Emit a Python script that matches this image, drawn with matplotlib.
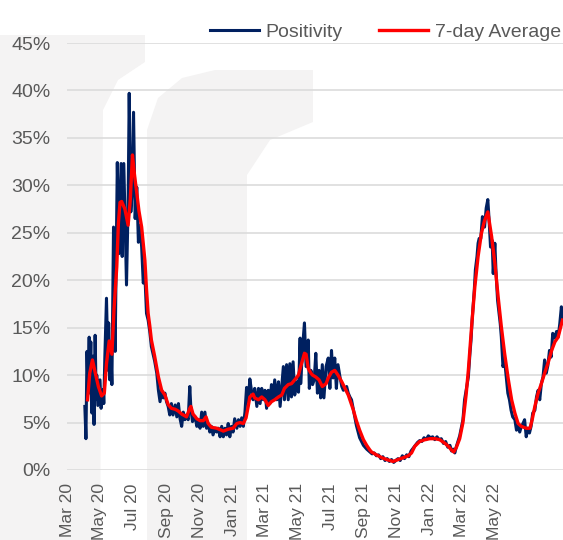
import matplotlib
matplotlib.use('Agg')
import matplotlib.pyplot as plt
import pandas as pd
from matplotlib.patches import Polygon
from matplotlib.ticker import FuncFormatter

plt.rcParams['font.family'] = ['Liberation Sans', 'DejaVu Sans']

start = pd.Timestamp('2020-03-01')

# daily positivity (% ), day offset from 1 Mar 2020
pos_day = [33, 35, 37, 39, 41, 42, 44, 46, 48, 50, 52, 54, 55, 57, 61, 63, 67, 68, 70, 73,
           76, 77, 79, 81, 83, 86, 89, 93, 96, 100, 102, 105, 107, 110, 113, 115, 118, 121, 123, 126,
           129, 132, 135, 138, 141, 144, 147, 150, 153,
           156, 162, 166, 169, 172, 175, 178, 181, 184, 187, 190, 193, 196, 200, 203, 206, 209, 212, 215, 218,
           221, 224, 227, 229, 232, 237, 240, 243, 246, 249, 252, 255, 258, 261, 264, 267, 270, 274, 277, 280,
           283, 286, 289, 292, 295, 298, 301, 304, 307, 310, 314, 317, 320, 323, 326, 329, 332, 335, 338,
           341, 344, 347, 351, 354, 357, 360, 363, 366, 369, 372, 375, 378, 381, 384, 388, 391, 394, 397, 400,
           402, 406, 409, 412, 415, 418, 421, 425, 428, 431, 432, 436, 439, 442, 446, 448, 451, 454, 457, 460,
           463, 466, 469, 472, 475, 479, 483, 486, 489, 492, 495, 498, 501, 505, 508, 511, 517, 520, 523, 526,
           529, 532, 535, 541, 548, 554, 560,
           564, 568, 572, 576, 580, 584, 588, 592, 596, 600, 604, 608, 612, 616, 620, 624, 628, 632, 636, 640,
           644, 648, 652, 656, 660, 664, 668, 672, 676, 680, 684, 688, 692, 696, 700, 704, 708, 711, 714, 717,
           720, 726, 732, 735, 739, 742, 745, 747, 749, 753, 755, 758, 760, 762, 765, 768, 769, 772, 775, 778,
           780, 783, 786, 788, 791, 793, 796, 798, 801, 803, 806, 809, 812, 815, 818, 821, 824, 828, 831, 834,
           837, 840, 843, 846, 849, 852, 855, 858, 861, 865, 868, 871, 874, 877, 880, 883, 886, 889, 892, 895,
           898, 902, 905, 908, 911, 914, 916]
pos_val = [6.7, 3.3, 12.5, 8.0, 14.0, 9.0, 13.5, 6.0, 12.0, 4.8, 14.2, 7.5, 10.0, 6.8, 9.5, 6.5, 8.5, 7.0, 12.0, 18.1,
           10.5, 15.5, 9.5, 13.0, 9.0, 25.6, 12.5, 32.4, 22.8, 32.3, 22.5, 32.3, 27.0, 19.5, 28.0, 39.7, 27.2, 30.0, 37.7, 26.5,
           29.8, 24.0, 25.8, 23.5, 19.7, 20.5, 16.5, 15.8, 14.6,
           13.0, 11.5, 10.2, 8.4, 7.2, 8.4, 7.6, 8.1, 7.2, 6.7, 5.8, 7.0, 5.8, 6.85, 5.6, 7.0, 5.4, 4.6, 6.1, 5.3,
           5.8, 5.3, 8.8, 6.5, 5.1, 5.6, 4.6, 5.3, 4.4, 6.1, 4.6, 6.1, 4.4, 4.9, 4.0, 4.6, 3.7, 4.4, 4.0, 4.4,
           3.5, 4.6, 3.5, 4.4, 3.7, 4.9, 3.5, 4.6, 4.0, 5.4, 4.4, 5.3, 4.6, 5.5, 4.6, 6.1, 8.7, 7.2, 9.6,
           8.4, 7.4, 8.6, 6.7, 8.6, 7.0, 8.6, 7.4, 8.4, 6.5, 8.4, 7.0, 9.0, 7.4, 9.5, 7.4, 9.3, 6.7, 8.8, 10.9,
           7.4, 11.1, 7.4, 11.2, 7.7, 11.4, 7.9, 9.3, 8.2, 13.9, 9.1, 13.3, 15.5, 10.9, 13.7, 8.6, 10.5, 9.0, 9.5, 12.3,
           8.1, 10.5, 7.6, 11.1, 7.6, 10.9, 11.8, 8.6, 12.6, 9.7, 11.8, 8.6, 11.1, 9.7, 8.8, 8.4, 8.8, 8.1, 7.7, 7.4,
           6.5, 5.6, 4.7, 3.4, 2.6, 2.2, 1.9,
           1.7, 1.8, 1.5, 1.6, 1.2, 1.4, 1.0, 1.2, 0.9, 1.1, 0.8, 1.0, 1.2, 1.0, 1.5, 1.2, 1.6, 1.4, 2.0, 2.3,
           2.6, 2.9, 3.1, 3.0, 3.4, 3.2, 3.6, 3.4, 3.5, 3.2, 3.5, 3.2, 3.3, 2.8, 3.0, 2.4, 2.6, 2.0, 2.2, 1.8,
           2.5, 3.6, 5.3, 7.4, 8.8, 9.8, 12.3, 13.7, 15.8, 19.0, 21.1, 22.5, 23.9, 24.4, 24.4, 26.7, 26.3, 25.6, 27.6, 28.5,
           26.7, 23.5, 24.2, 20.7, 23.9, 21.1, 17.9, 16.9, 15.4, 14.0, 10.9, 11.6, 9.8, 8.1, 7.4, 6.3, 5.6, 5.3, 4.2, 4.6,
           4.0, 4.6, 4.9, 5.3, 3.5, 4.4, 3.9, 4.6, 6.0, 6.3, 7.7, 8.4, 7.4, 9.1, 9.8, 11.6, 10.2, 11.0, 12.6, 11.9,
           14.4, 13.9, 14.6, 14.0, 15.4, 17.2, 15.8]

# 7-day average (%)
avg_day = [38, 42, 47, 52, 58, 64, 69, 73, 78, 83, 87, 92, 95, 98, 101, 107, 113, 117, 121, 125,
           129, 133, 138, 144, 147, 150, 153,
           156, 162, 169, 175, 181, 187, 193, 200, 206, 212, 221, 227, 229, 233, 240, 246, 252, 257, 261,
           267, 277, 289, 298, 307, 314, 320, 326, 331, 335, 338,
           344, 347, 354, 360, 366, 372, 378, 384, 391, 397, 402, 409, 415, 421, 428, 432, 439, 442, 446, 451,
           454, 460, 466, 472, 479, 483, 489, 495, 501, 508, 514, 520, 529, 535, 541, 548, 554, 560,
           563, 572, 582, 591, 603, 612, 622, 631, 637, 643, 652, 662, 671, 680, 689, 699, 705, 711, 715,
           720, 726, 732, 738, 742, 748, 754, 760, 766, 772, 778, 785, 791, 797, 803, 809, 816, 822, 828, 834,
           840, 849, 856, 860, 865, 871, 877, 883, 890, 896, 902, 908, 913, 916]
avg_val = [7.4, 10.2, 11.6, 10.3, 8.8, 7.8, 8.1, 11.2, 13.6, 12.2, 17.0, 21.4, 26.0, 28.2, 28.3, 27.5, 25.8, 28.5, 33.2, 31.0,
           29.2, 27.3, 25.6, 22.1, 19.0, 16.5, 15.2,
           13.7, 12.0, 9.8, 8.4, 7.9, 6.9, 6.5, 6.4, 6.2, 5.9, 5.6, 6.5, 6.7, 5.9, 5.4, 5.2, 5.2, 5.6, 4.9,
           4.5, 4.4, 4.1, 4.3, 4.4, 4.9, 5.0, 4.9, 5.5, 6.7, 7.7,
           8.0, 7.6, 7.4, 7.7, 7.4, 6.8, 7.2, 7.4, 7.7, 7.9, 8.6, 9.0, 9.1, 9.5, 10.0, 10.9, 12.3, 12.2, 10.7, 10.2,
           10.0, 9.8, 9.5, 8.8, 9.1, 9.7, 10.3, 10.5, 10.0, 9.3, 8.6, 7.9, 6.4, 5.2, 4.2, 3.2, 2.6, 2.1,
           1.9, 1.6, 1.3, 1.1, 0.9, 1.1, 1.3, 1.5, 1.8, 2.5, 3.0, 3.2, 3.3, 3.3, 3.2, 2.8, 2.5, 2.1, 1.9,
           2.4, 3.3, 5.0, 8.0, 10.5, 15.1, 19.3, 22.5, 24.9, 26.3, 27.2, 24.6, 21.8, 18.3, 15.1, 12.3, 9.5, 7.4, 6.0, 4.9,
           4.6, 4.4, 4.4, 5.3, 6.7, 8.1, 9.1, 10.2, 11.4, 12.6, 13.5, 14.0, 15.1, 15.8]

tick_labels = ['Mar 20', 'May 20', 'Jul 20', 'Sep 20', 'Nov 20', 'Jan 21', 'Mar 21',
               'May 21', 'Jul 21', 'Sep 21', 'Nov 21', 'Jan 22', 'Mar 22', 'May 22']
y_ticks = [0, 5, 10, 15, 20, 25, 30, 35, 40, 45]

pos_dates = start + pd.to_timedelta(pos_day, unit='D')
avg_dates = start + pd.to_timedelta(avg_day, unit='D')
tick_dates = pd.date_range('2020-03-01', periods=len(tick_labels), freq='2MS')

W, H = 563, 540
fig = plt.figure(figsize=(W / 100, H / 100), dpi=100)

# faint watermark logo behind the chart
def px(pts):
    return [(x / W, 1 - y / H) for x, y in pts]

logo = [
    [(0, 35), (145, 35), (145, 62), (118, 80), (103, 110), (100, 540), (10, 540), (0, 540)],
    [(147, 540), (147, 130), (158, 98), (182, 78), (215, 70), (313, 70), (313, 122),
     (270, 140), (247, 175), (247, 540)],
]
for pts in logo:
    fig.patches.append(Polygon(px(pts), closed=True, transform=fig.transFigure,
                               facecolor='#f4f3f3', edgecolor='none', zorder=-10))

ax = fig.add_axes([67 / W, 1 - 470 / H, 1 - 67 / W, (470 - 43) / H])
ax.set_facecolor('none')

ax.plot(pos_dates, pos_val, color='#002060', lw=2.2, label='Positivity', zorder=3)
ax.plot(avg_dates, avg_val, color='#ff0000', lw=2.4, label='7-day Average', zorder=4)

ax.set_ylim(0, 45)
ax.set_xlim(start, start + pd.Timedelta(days=917))
ax.set_yticks(y_ticks)
ax.yaxis.set_major_formatter(FuncFormatter(lambda v, p: f'{v:.0f}%'))
ax.set_xticks(tick_dates)
ax.set_xticklabels(tick_labels, rotation=90)

ax.grid(axis='y', color='#d9d9d9', lw=1.1, zorder=1)
ax.set_axisbelow(True)
for s in ax.spines.values():
    s.set_visible(False)
ax.tick_params(length=0, colors='#595959')
ax.tick_params(axis='y', pad=12, labelsize=14)
ax.tick_params(axis='x', pad=9.5, labelsize=12.5)

leg = ax.legend(loc='center right', bbox_to_anchor=(561 / W, 1 - 32 / H),
                bbox_transform=fig.transFigure, ncol=2, frameon=False, fontsize=14,
                handlelength=2.5, handletextpad=0.35, columnspacing=1.9,
                borderpad=0, borderaxespad=0)
for t in leg.get_texts():
    t.set_color('#595959')

fig.savefig('out.png', dpi=100)
